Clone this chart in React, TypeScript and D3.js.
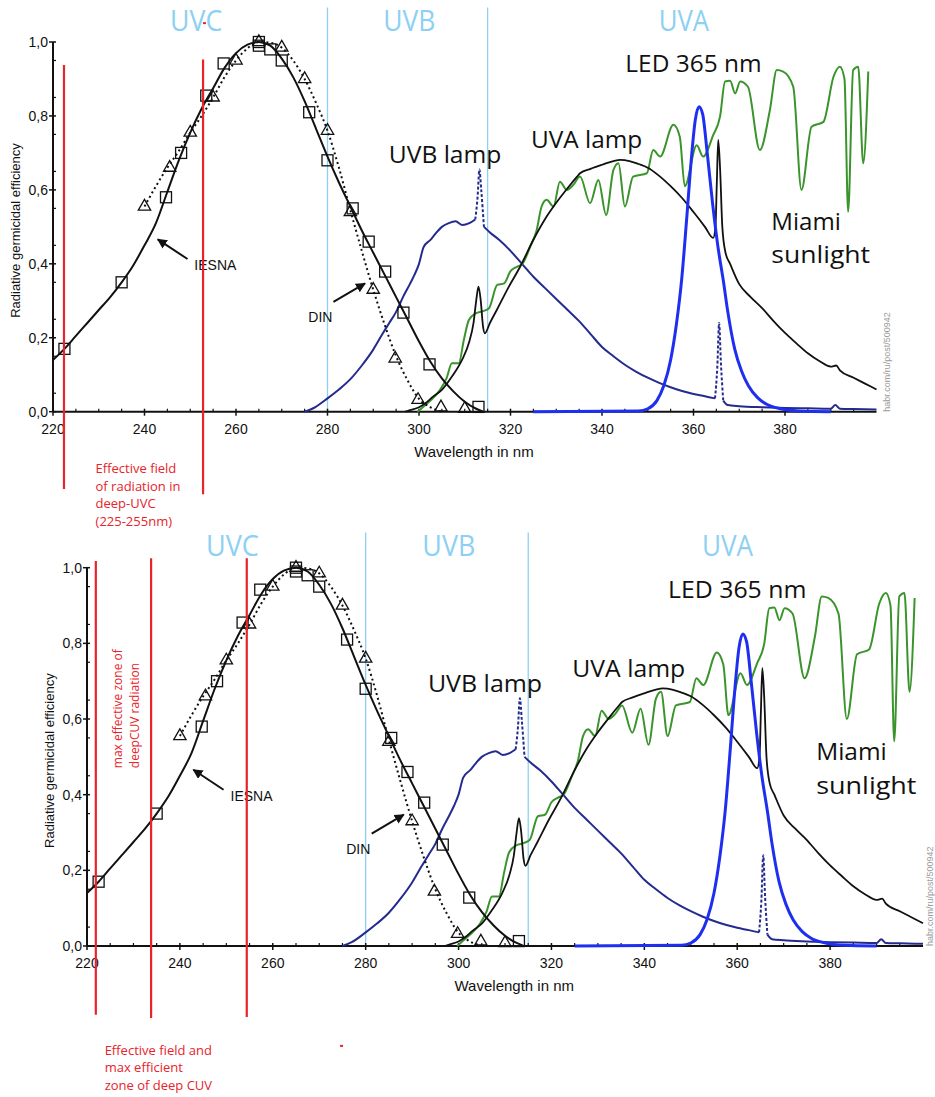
import * as d3 from "d3";

type Pt = [number, number];

// axes
const xDomain: Pt = [220, 400];
const xTicks = [220, 240, 260, 280, 300, 320, 340, 360, 380];
const yTicks = [0, 0.2, 0.4, 0.6, 0.8, 1.0];

// germicidal action spectra
const iesnaCurve: Pt[] = [
  [220, 0.14], [222.5, 0.17], [225, 0.205], [227.5, 0.24], [230, 0.275], [232.5, 0.31],
  [235, 0.35], [237.5, 0.395], [240, 0.45], [242.5, 0.51], [245, 0.595], [247.5, 0.68],
  [250, 0.755], [252.5, 0.82], [255, 0.875], [257.5, 0.93], [260, 0.97], [262.5, 0.993],
  [265, 1.0], [267.5, 0.99], [270, 0.955], [272.5, 0.905], [275, 0.84], [277.5, 0.765],
  [280, 0.69], [282.5, 0.62], [285, 0.555], [287.5, 0.49], [290, 0.43], [292.5, 0.37],
  [295, 0.31], [297.5, 0.25], [300, 0.19], [302.5, 0.135], [305, 0.09], [307.5, 0.055],
  [310, 0.027], [312.5, 0.008], [314, 0.0],
];
const iesnaSquares: Pt[] = [
  [222.5, 0.17], [235, 0.35], [244.7, 0.58], [248, 0.7], [253.5, 0.855], [257.3, 0.942],
  [265, 1.0], [265, 0.99], [267.5, 0.98], [270, 0.95], [276, 0.81], [280, 0.68],
  [285.5, 0.55], [289, 0.46], [292.6, 0.379], [296.6, 0.268], [302.3, 0.128], [313, 0.013],
];
const dinCurve: Pt[] = [
  [240, 0.555], [242.5, 0.61], [245, 0.66], [247.5, 0.705], [250, 0.755], [252.5, 0.8],
  [255, 0.85], [257.5, 0.905], [260, 0.95], [262.5, 0.983], [265, 1.0], [267.5, 0.998],
  [270, 0.985], [272.5, 0.95], [275, 0.9], [277.5, 0.835], [280, 0.76], [282.5, 0.66],
  [285, 0.545], [287.5, 0.435], [290, 0.33], [292.5, 0.235], [295, 0.15], [297.5, 0.085],
  [300, 0.035], [302.5, 0.012], [305, 0.0],
];
const dinTriangles: Pt[] = [
  [240, 0.555], [245.5, 0.66], [250, 0.755], [255, 0.85], [260, 0.95], [265, 1.0],
  [270, 0.985], [275, 0.9], [280, 0.76], [285, 0.54], [290, 0.33], [294.8, 0.144],
  [299.8, 0.032], [304.8, 0.012], [310, 0.008],
];

// UVB lamp, split where the mercury lines are drawn dotted
const uvbLampA: Pt[] = [
  [275, 0], [277, 0.01], [280, 0.036], [282.5, 0.06], [285, 0.088], [287.5, 0.125],
  [290, 0.168], [292, 0.21], [293.5, 0.24], [295, 0.27], [296.5, 0.31], [298, 0.345],
  [299, 0.37], [300, 0.4], [301, 0.445], [302.5, 0.465], [303.5, 0.48], [305, 0.5],
  [306.5, 0.51], [308, 0.515], [309.5, 0.505], [311, 0.51], [312.3, 0.52],
];
const uvbLine313: Pt[] = [[312.3, 0.52], [312.8, 0.58], [313.2, 0.655], [313.6, 0.6], [314.2, 0.5]];
const uvbLampB: Pt[] = [
  [314.2, 0.5], [315.5, 0.485], [317.5, 0.465], [320, 0.435], [322.5, 0.4], [325, 0.365],
  [327.5, 0.335], [330, 0.305], [332.5, 0.275], [335, 0.245], [337.5, 0.21], [340, 0.175],
  [342.5, 0.15], [345, 0.127], [347.5, 0.108], [350, 0.092], [352.5, 0.078], [355, 0.066],
  [357.5, 0.056], [360, 0.048], [362.5, 0.042], [364.7, 0.036],
];
const uvbLine365: Pt[] = [[364.7, 0.036], [365.2, 0.12], [365.6, 0.24], [366, 0.13], [366.5, 0.03]];
const uvbLampC: Pt[] = [
  [366.5, 0.03], [367.5, 0.018], [370, 0.015], [375, 0.012], [380, 0.01], [385, 0.009],
  [390, 0.008], [391, 0.018], [392, 0.008], [395, 0.007], [400, 0.006],
];

const uvaLamp: Pt[] = [
  [297, 0], [298, 0.004], [300, 0.012], [301.4, 0.023], [303, 0.04], [305, 0.059],
  [307.2, 0.095], [309.4, 0.14], [311, 0.19], [311.9, 0.239], [312.5, 0.3], [313, 0.338],
  [313.5, 0.3], [314, 0.23], [314.4, 0.212], [315.5, 0.24], [317, 0.275], [319.5, 0.335],
  [322.1, 0.392], [325, 0.465], [327.5, 0.52], [330, 0.565], [332.5, 0.605], [334.5, 0.635],
  [335.2, 0.645], [337.5, 0.657], [340, 0.668], [342.5, 0.678], [344, 0.681], [346, 0.678],
  [348, 0.67], [350, 0.66], [352.5, 0.638], [355, 0.61], [357.5, 0.578], [360, 0.54],
  [362.5, 0.5], [364.3, 0.47], [364.8, 0.5], [365.1, 0.62], [365.4, 0.735], [365.8, 0.66],
  [366.3, 0.5], [367, 0.43], [368, 0.4], [370, 0.345], [372.5, 0.31], [375, 0.28],
  [377.5, 0.245], [380, 0.213], [382.5, 0.185], [385, 0.158], [387.5, 0.137], [390, 0.122],
  [391.2, 0.125], [392, 0.112], [395, 0.092], [397.5, 0.076], [400, 0.06],
];

const miamiSun: Pt[] = [
  [299.7, 0], [300.9, 0.013], [302.5, 0.03], [304.6, 0.059], [306, 0.09], [307.2, 0.131],
  [308.7, 0.131], [309.8, 0.194], [310.9, 0.248], [312.4, 0.266], [314, 0.272], [315.3, 0.28],
  [317.1, 0.343], [318.6, 0.347], [320, 0.38], [321.4, 0.392], [322.6, 0.4], [324.3, 0.446],
  [325.7, 0.49], [326.8, 0.555], [327.9, 0.573], [329.4, 0.555], [330.8, 0.622], [332.3, 0.6],
  [333.7, 0.613], [335.2, 0.636], [337.4, 0.564], [339.2, 0.627], [340.9, 0.532], [342.5, 0.654],
  [343.6, 0.672], [345, 0.555], [346.8, 0.636], [349.8, 0.645], [351.2, 0.708], [352.7, 0.69],
  [355.6, 0.776], [357, 0.744], [358.1, 0.61], [360.7, 0.721], [362.1, 0.69], [364.3, 0.748],
  [365.8, 0.798], [366.9, 0.893], [368, 0.895], [369.1, 0.861], [370.2, 0.893], [371.9, 0.879],
  [374.5, 0.708], [376.7, 0.816], [378.2, 0.924], [379.6, 0.92], [381.8, 0.879], [383.6, 0.6],
  [385.8, 0.771], [388.4, 0.784], [390.6, 0.906], [392, 0.933], [393, 0.9], [393.8, 0.541],
  [394.9, 0.924], [396, 0.933], [397.1, 0.672], [398.2, 0.92],
];

const led365: Pt[] = [
  [325, 0], [348, 0.002], [350, 0.008], [352, 0.03], [353.5, 0.07], [355, 0.14], [356.3, 0.24],
  [357.4, 0.356], [358.5, 0.52], [359.5, 0.68], [360.4, 0.79], [361.2, 0.825], [362, 0.805],
  [363, 0.7], [364.2, 0.56], [365.3, 0.45], [366.5, 0.356], [367.5, 0.27], [369, 0.17],
  [370.5, 0.11], [372, 0.07], [374, 0.038], [376, 0.02], [379, 0.008], [383, 0.002], [390, 0],
];

// labels
const bandNames = ["UVC", "UVB", "UVA"];
const bandSpans: Pt[] = [[245.6, 257.0], [292.2, 303.6], [352.4, 363.4]];
const bandEdges = [280, 315];
const lampNames = ["UVB lamp", "UVA lamp", "LED 365 nm", "Miami", "sunlight"];
const lampSpans: Pt[] = [[293.4, 318.0], [324.5, 348.8], [345.1, 374.9], [377.0, 392.2], [377.0, 398.6]];
const lampBaselines = [0.672, 0.712, 0.92, 0.491, 0.401];
const arrowNames = ["IESNA", "DIN"];
const arrowFrom: Pt[] = [[249.4, 0.413], [281.3, 0.297]];
const arrowTo: Pt[] = [[242.9, 0.466], [288.2, 0.347]];
const arrowTextAt: Pt[] = [[250.9, 0.397], [275.8, 0.256]];

// red annotations of each panel
const topRedLines = [222.4, 252.8];
const topRedTops = [0.938, 0.953];
const topRedBottoms = [-0.209, -0.223];
const topNote = ["Effective field", "of radiation in", "deep-UVC", "(225-255nm)"];
const bottomRedLines = [221.9, 233.8, 254.4];
const bottomRedTops = [1.018, 1.025, 1.025];
const bottomRedBottoms = [-0.182, -0.19, -0.188];
const bottomNote = ["Effective field and", "max efficient", "zone of deep CUV"];
const bottomSideNote = ["max effective zone of", "deepCUV radiation"];

const BLACK = "#111";
const NAVY = "#242b8e";
const GREEN = "#3a942c";
const LED = "#1f2ff0";
const RED = "#e8232a";
const SKY = "#8dd0f3";
const SANS = "'Liberation Sans', Arial, sans-serif";
const HUMAN = "'Open Sans', 'Noto Sans', sans-serif";

interface PanelSpec {
  id: string;
  left: number;
  right: number;
  bottom: number;
  top: number;
  redLines: number[];
  redTops: number[];
  redBottoms: number[];
  note: string[];
  noteAt: Pt;
  sideNote?: string[];
  sideNoteAt?: Pt[];
  speck: Pt;
  markDx: number;
}

const panels: PanelSpec[] = [
  {
    id: "top", left: 53, right: 876.5, bottom: 411.7, top: 42,
    redLines: topRedLines, redTops: topRedTops, redBottoms: topRedBottoms,
    note: topNote, noteAt: [229.3, -0.166], speck: [253, 1.051], markDx: 10,
  },
  {
    id: "bottom", left: 87, right: 923, bottom: 946, top: 567.7,
    redLines: bottomRedLines, redTops: bottomRedTops, redBottoms: bottomRedBottoms,
    note: bottomNote, noteAt: [223.8, -0.287],
    sideNote: bottomSideNote, sideNoteAt: [[227.5, 0.47], [231.3, 0.47]],
    speck: [274.7, -0.264], markDx: 7,
  },
];

function Panel({ p }: { p: PanelSpec }) {
  const x = d3.scaleLinear().domain(xDomain).range([p.left, p.right]);
  const y = d3.scaleLinear().domain([0, 1]).range([p.bottom, p.top]);
  const k = (p.bottom - p.top) / 369.7;
  const line = d3
    .line<Pt>()
    .x((d) => x(d[0]))
    .y((d) => y(d[1]))
    .curve(d3.curveMonotoneX);
  const fmt = (v: number) => d3.format(".1f")(v).replace(".", ",");
  const tri = d3.symbol().type(d3.symbolTriangle).size(66)() as string;
  const sq = 11;
  const xMinor = d3.range(225, 400, 5).filter((v) => v % 20 !== 0);
  const yMinor = d3.range(0.05, 1, 0.1);

  return (
    <g>
      {/* band boundaries */}
      {bandEdges.map((b) => (
        <line key={b} x1={x(b)} x2={x(b)} y1={y(1.093)} y2={y(0)} stroke={SKY} strokeWidth={1.3} />
      ))}
      {bandNames.map((n, i) => (
        <text
          key={n}
          x={x(bandSpans[i][0])}
          y={y(1.03)}
          textLength={x(bandSpans[i][1]) - x(bandSpans[i][0])}
          lengthAdjust="spacingAndGlyphs"
          fontFamily={HUMAN}
          fontSize={29 * k}
          fill={SKY}
        >
          {n}
        </text>
      ))}

      {/* axes */}
      <line x1={x(220)} x2={x(400)} y1={y(0)} y2={y(0)} stroke={BLACK} strokeWidth={2} />
      <line x1={x(220)} x2={x(220)} y1={y(0)} y2={y(1)} stroke={BLACK} strokeWidth={2} />
      {xTicks.map((t) => (
        <g key={t}>
          <line x1={x(t)} x2={x(t)} y1={y(0) - 3} y2={y(0) + 4} stroke={BLACK} strokeWidth={1.5} />
          <text x={x(t)} y={y(0) + 22} textAnchor="middle" fontFamily={SANS} fontSize={14} fill={BLACK}>
            {t}
          </text>
        </g>
      ))}
      {xMinor.map((t) => (
        <line key={t} x1={x(t)} x2={x(t)} y1={y(0) - 3} y2={y(0)} stroke={BLACK} strokeWidth={1.2} />
      ))}
      {yTicks.map((t) => (
        <g key={t}>
          <line x1={x(220) - 4} x2={x(220) + 3} y1={y(t)} y2={y(t)} stroke={BLACK} strokeWidth={1.5} />
          <text x={x(220) - 5} y={y(t) + 5} textAnchor="end" fontFamily={SANS} fontSize={14} fill={BLACK}>
            {fmt(t)}
          </text>
        </g>
      ))}
      {yMinor.map((t) => (
        <line key={t} x1={x(220)} x2={x(220) + 3} y1={y(t)} y2={y(t)} stroke={BLACK} strokeWidth={1.2} />
      ))}
      <text
        transform={`translate(${x(220) - 33},${y(0.49)}) rotate(-90)`}
        textAnchor="middle"
        fontFamily={SANS}
        fontSize={13}
        fill={BLACK}
      >
        Radiative germicidal efficiency
      </text>
      <text x={x(312)} y={y(0) + 45} textAnchor="middle" fontFamily={SANS} fontSize={15} fill={BLACK}>
        Wavelength in nm
      </text>

      {/* lamp and sun spectra */}
      <path d={line(uvbLampA) ?? ""} fill="none" stroke={NAVY} strokeWidth={2} />
      <path d={line(uvbLampB) ?? ""} fill="none" stroke={NAVY} strokeWidth={2} />
      <path d={line(uvbLampC) ?? ""} fill="none" stroke={NAVY} strokeWidth={2} />
      <path d={line(uvbLine313) ?? ""} fill="none" stroke={NAVY} strokeWidth={2} strokeDasharray="3,2" />
      <path d={line(uvbLine365) ?? ""} fill="none" stroke={NAVY} strokeWidth={2} strokeDasharray="3,2" />
      <path d={line(miamiSun) ?? ""} fill="none" stroke={GREEN} strokeWidth={2} />
      <path d={line(uvaLamp) ?? ""} fill="none" stroke={BLACK} strokeWidth={1.8} />
      <path d={line(led365) ?? ""} fill="none" stroke={LED} strokeWidth={3} />

      {/* germicidal efficiency */}
      <path d={line(dinCurve) ?? ""} fill="none" stroke={BLACK} strokeWidth={2} strokeDasharray="2,3" />
      <path d={line(iesnaCurve) ?? ""} fill="none" stroke={BLACK} strokeWidth={2} />
      {iesnaSquares.map((d, i) => (
        <rect
          key={i}
          x={x(d[0]) - sq / 2}
          y={y(d[1]) - sq / 2}
          width={sq}
          height={sq}
          fill="none"
          stroke={BLACK}
          strokeWidth={1.3}
        />
      ))}
      {dinTriangles.map((d, i) => (
        <path
          key={i}
          d={tri}
          transform={`translate(${x(d[0])},${y(d[1])})`}
          fill="none"
          stroke={BLACK}
          strokeWidth={1.3}
        />
      ))}

      {/* curve names */}
      {arrowNames.map((n, i) => (
        <g key={n}>
          <line
            x1={x(arrowFrom[i][0])}
            y1={y(arrowFrom[i][1])}
            x2={x(arrowTo[i][0])}
            y2={y(arrowTo[i][1])}
            stroke={BLACK}
            strokeWidth={2}
            markerEnd="url(#arrowhead)"
          />
          <text
            x={x(arrowTextAt[i][0])}
            y={y(arrowTextAt[i][1])}
            dominantBaseline="central"
            fontFamily={SANS}
            fontSize={14}
            fill={BLACK}
          >
            {n}
          </text>
        </g>
      ))}
      {lampNames.map((n, i) => (
        <text
          key={n}
          x={x(lampSpans[i][0])}
          y={y(lampBaselines[i])}
          textLength={x(lampSpans[i][1]) - x(lampSpans[i][0])}
          lengthAdjust="spacingAndGlyphs"
          fontFamily={HUMAN}
          fontSize={23 * k}
          fill={BLACK}
        >
          {n}
        </text>
      ))}
      <text
        transform={`translate(${x(400) + p.markDx},${y(0)}) rotate(-90)`}
        dominantBaseline="central"
        fontFamily={SANS}
        fontSize={9}
        fill="#9a9a9a"
      >
        habr.com/ru/post/500942
      </text>

      {/* red markup */}
      {p.redLines.map((r, i) => (
        <line
          key={r}
          x1={x(r)}
          x2={x(r)}
          y1={y(p.redTops[i])}
          y2={y(p.redBottoms[i])}
          stroke={RED}
          strokeWidth={2.2}
        />
      ))}
      {p.note.map((s, i) => (
        <text
          key={s}
          x={x(p.noteAt[0])}
          y={y(p.noteAt[1]) + i * 17.5}
          fontFamily={HUMAN}
          fontSize={13}
          fill={RED}
        >
          {s}
        </text>
      ))}
      {p.sideNote &&
        p.sideNoteAt &&
        p.sideNote.map((s, i) => (
          <text
            key={s}
            transform={`translate(${x(p.sideNoteAt![i][0])},${y(p.sideNoteAt![i][1])}) rotate(-90)`}
            fontFamily={HUMAN}
            fontSize={12}
            fill={RED}
          >
            {s}
          </text>
        ))}
      <rect x={x(p.speck[0]) - 1} y={y(p.speck[1]) - 1} width={3} height={2} fill={RED} />
    </g>
  );
}

export default function App() {
  return (
    <svg
      width={935}
      height={1097}
      style={{ position: "absolute", left: 0, top: 0, background: "#fff" }}
    >
      <defs>
        <marker
          id="arrowhead"
          viewBox="0 0 10 10"
          refX={9}
          refY={5}
          markerWidth={5}
          markerHeight={5}
          orient="auto"
        >
          <path d="M0,0 L10,5 L0,10 Z" fill={BLACK} />
        </marker>
      </defs>
      <rect width={935} height={1097} fill="#fff" />
      {panels.map((p) => (
        <Panel key={p.id} p={p} />
      ))}
    </svg>
  );
}
